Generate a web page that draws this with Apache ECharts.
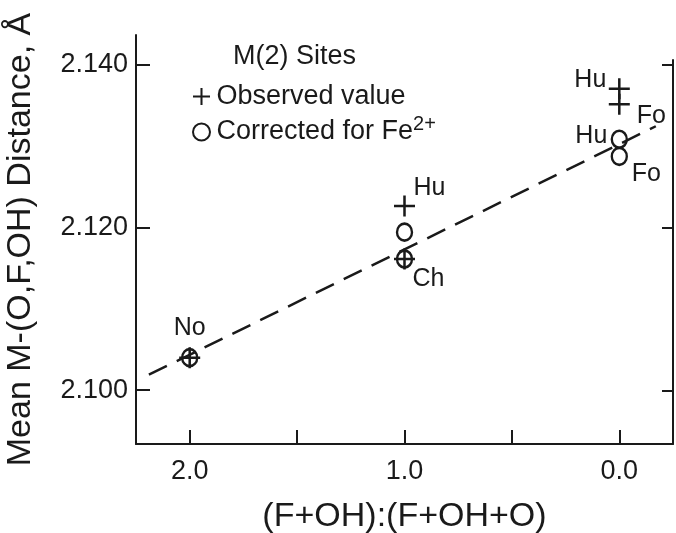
<!DOCTYPE html>
<html><head><meta charset="utf-8">
<script src="https://cdn.jsdelivr.net/npm/echarts@6/dist/echarts.min.js"></script>
<style>html,body{margin:0;padding:0;background:#fff}#c{width:676px;height:533px}</style>
</head><body><div id="c"></div>
<script>
// ---- data ----
const obsNames = ['No', 'Ch', 'Hu', 'Hu', 'Fo'];
const obsX = [2.0, 1.0, 1.0, 0.0, 0.0];
const obsY = [2.1040, 2.1161, 2.1226, 2.1370, 2.1351];
const corNames = ['No', 'Ch', 'Hu', 'Hu', 'Fo'];
const corX = [2.0, 1.0, 1.0, 0.0, 0.0];
const corY = [2.1040, 2.1161, 2.1194, 2.1308, 2.1287];
const fitX = [2.19, -0.17];
const fitY = [2.1019, 2.1324];
const yTicks = [2.100, 2.120, 2.140];
const xTicks = [0.0, 0.5, 1.0, 1.5, 2.0];
const xTickLabels = [0.0, 1.0, 2.0];
const legendTitle = 'M(2) Sites';
const obsName = 'Observed value';
const corName = 'Corrected for Fe2+';
const xTitle = '(F+OH):(F+OH+O)';
const yTitle = 'Mean M-(O,F,OH) Distance, Å';

// ---- styling (not data) ----
const INK = '#1a1a1a';
const FONT = 'Liberation Sans';
const obsLabelOffsets = [[0, -30], [24, 20], [25, -18], [-29, -9], [32, 12]];
const corLabelOffsets = [null, null, null, [-28, -3], [27, 18]];
const PLUS = 'path://M8.8,0H11.2V8.8H20V11.2H11.2V20H8.8V11.2H0V8.8H8.8Z';

function pts(xs, ys, names, offs) {
  return xs.map((x, i) => {
    const o = offs[i];
    return {
      value: [x, ys[i]],
      name: names[i],
      label: o ? {
        show: true, formatter: names[i], position: 'inside',
        offset: o, align: 'center', verticalAlign: 'middle',
        color: INK, opacity: 1, textBorderWidth: 0, fontFamily: FONT, fontSize: 25
      } : { show: false }
    };
  });
}

const chart = echarts.init(document.getElementById('c'), null, { renderer: 'canvas' });
const yMin = 2.0934, yMax = 2.1436;
chart.setOption({
  backgroundColor: '#fff',
  animation: false,
  title: {
    text: legendTitle, left: 228, top: 38,
    textStyle: { color: INK, fontFamily: FONT, fontSize: 27, fontWeight: 'normal' }
  },
  legend: {
    orient: 'vertical', left: 187, top: 78, itemGap: 4,
    itemWidth: 20, itemHeight: 17,
    data: [{ name: obsName }, { name: corName }],
    formatter: n => n === corName ? 'Corrected for Fe{sup|2+}' : n,
    textStyle: {
      color: INK, fontFamily: FONT, fontSize: 27,
      rich: { sup: { fontFamily: FONT, fontSize: 20, color: INK, verticalAlign: 'top', padding: [0, 0, 16, 0] } }
    }
  },
  grid: [
    { left: 136, right: 3, top: 35, bottom: 89, containLabel: false, outerBoundsMode: 'none' },
    { left: 136, right: 3, top: 60, bottom: 89, containLabel: false, outerBoundsMode: 'none' }
  ],
  xAxis: [{
    type: 'value', gridIndex: 0, inverse: true, min: -0.25, max: 2.25,
    name: xTitle, nameLocation: 'middle', nameGap: 56,
    nameTextStyle: { color: INK, fontFamily: FONT, fontSize: 34 },
    axisLine: { show: true, onZero: false, lineStyle: { color: INK, width: 2 } },
    axisTick: { show: true, inside: true, length: 14, customValues: xTicks, lineStyle: { color: INK, width: 2 } },
    axisLabel: { customValues: xTickLabels, formatter: v => Number(v).toFixed(1), color: INK, fontFamily: FONT, fontSize: 27, margin: 14 },
    splitLine: { show: false }
  }, {
    type: 'value', gridIndex: 1, inverse: true, min: -0.25, max: 2.25, show: false
  }],
  yAxis: [{
    type: 'value', gridIndex: 0, min: yMin, max: yMax, position: 'left',
    name: yTitle, nameLocation: 'middle', nameGap: 98, nameRotate: 90,
    nameTextStyle: { color: INK, fontFamily: FONT, fontSize: 34 },
    axisLine: { show: true, onZero: false, lineStyle: { color: INK, width: 2 } },
    axisTick: { show: true, inside: true, length: 14, customValues: yTicks, lineStyle: { color: INK, width: 2 } },
    axisLabel: { customValues: yTicks, formatter: v => Number(v).toFixed(3), color: INK, fontFamily: FONT, fontSize: 27, margin: 8 },
    splitLine: { show: false }
  }, {
    type: 'value', gridIndex: 1, min: yMin, max: 2.140 + (yMax - yMin) / 409 * 5, position: 'right',
    axisLine: { show: true, onZero: false, lineStyle: { color: INK, width: 2 } },
    axisTick: { show: true, inside: true, length: 11, customValues: yTicks, lineStyle: { color: INK, width: 2 } },
    axisLabel: { show: false },
    splitLine: { show: false }
  }],
  series: [
    {
      name: 'fit', type: 'line', xAxisIndex: 0, yAxisIndex: 0,
      data: fitX.map((x, i) => [x, fitY[i]]),
      symbol: 'none', silent: true, z: 1,
      lineStyle: { color: INK, width: 2.5, type: [20, 11] }
    },
    {
      name: obsName, type: 'scatter', xAxisIndex: 0, yAxisIndex: 0, z: 3,
      symbol: PLUS, symbolSize: 21,
      itemStyle: { color: INK, opacity: 1 },
      label: { color: INK },
      data: pts(obsX, obsY, obsNames, obsLabelOffsets)
    },
    {
      name: corName, type: 'scatter', xAxisIndex: 0, yAxisIndex: 0, z: 3,
      symbol: 'circle', symbolSize: [15, 17],
      itemStyle: { color: 'rgba(0,0,0,0)', borderColor: INK, borderWidth: 2.5, opacity: 1 },
      label: { color: INK },
      data: pts(corX, corY, corNames, corLabelOffsets)
    }
  ]
});
</script></body></html>
